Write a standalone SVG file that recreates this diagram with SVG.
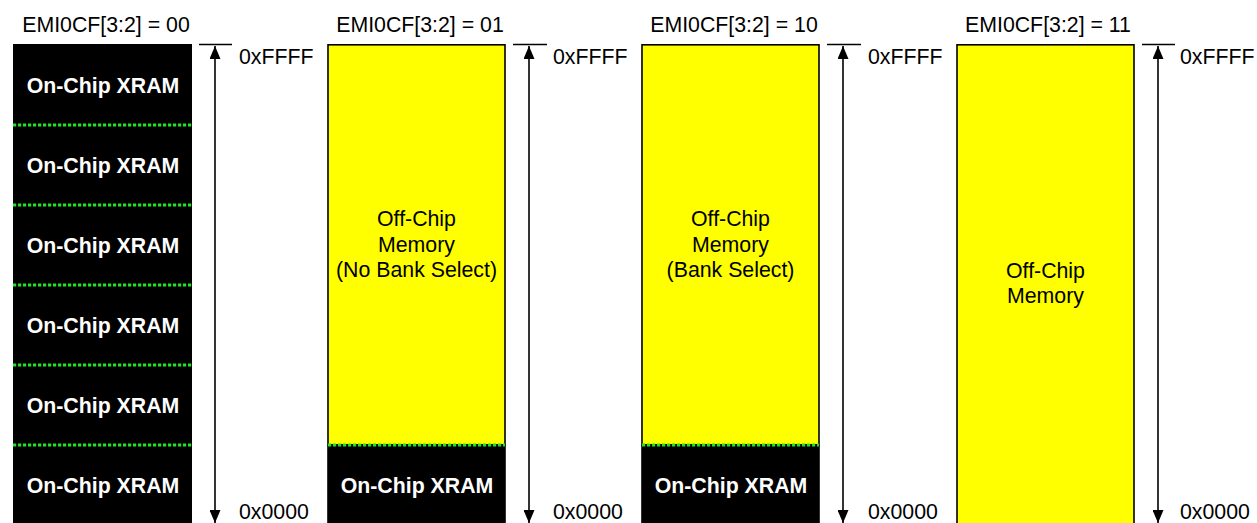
<svg xmlns="http://www.w3.org/2000/svg" width="1257" height="523" viewBox="0 0 1257 523">
<defs>
<marker id="ah" viewBox="0 0 13 11" refX="13" refY="5.5" markerWidth="13" markerHeight="11" markerUnits="userSpaceOnUse" orient="auto-start-reverse">
<path d="M0,0 L13,5.5 L0,11 z" fill="#000"/>
</marker>
</defs>
<style>
text{font-family:"Liberation Sans",Arial,sans-serif;font-size:21.3px;fill:#000}
.t{text-anchor:middle}
.w{fill:#fff;font-weight:bold;text-anchor:middle}
.blk{fill:#000}
.yel{fill:#ffff00;stroke:#000;stroke-width:1.6}
.dot{stroke:#1ee61e;stroke-width:3;stroke-dasharray:3.2 1.8;fill:none}
.tick{stroke:#000;stroke-width:1.6}
.arr{stroke:#000;stroke-width:1.6;fill:none}
</style>
<rect width="1257" height="523" fill="#fff"/>

<g id="titles">
<text class="t" x="106" y="32">EMI0CF[3:2] = 00</text>
<text class="t" x="420" y="32">EMI0CF[3:2] = 01</text>
<text class="t" x="734" y="32">EMI0CF[3:2] = 10</text>
<text class="t" x="1048" y="32">EMI0CF[3:2] = 11</text>
</g>

<g id="map00">
<rect class="blk" x="13" y="44" width="179" height="490"/>
<line class="dot" x1="13" y1="125" x2="192" y2="125"/>
<line class="dot" x1="13" y1="205" x2="192" y2="205"/>
<line class="dot" x1="13" y1="285" x2="192" y2="285"/>
<line class="dot" x1="13" y1="365" x2="192" y2="365"/>
<line class="dot" x1="13" y1="445" x2="192" y2="445"/>
<text class="w" x="103" y="93">On-Chip XRAM</text>
<text class="w" x="103" y="173">On-Chip XRAM</text>
<text class="w" x="103" y="253">On-Chip XRAM</text>
<text class="w" x="103" y="333">On-Chip XRAM</text>
<text class="w" x="103" y="413">On-Chip XRAM</text>
<text class="w" x="103" y="493">On-Chip XRAM</text>
</g>

<g id="map01">
<rect class="yel" x="328" y="44.8" width="177" height="400"/>
<rect class="blk" x="327.2" y="445" width="178.6" height="90"/>
<line class="dot" x1="328" y1="445" x2="505" y2="445"/>
<text class="t" x="416.5" y="226">Off-Chip</text>
<text class="t" x="416.5" y="252">Memory</text>
<text class="t" x="416.5" y="277">(No Bank Select)</text>
<text class="w" x="417" y="493">On-Chip XRAM</text>
</g>

<g id="map10">
<rect class="yel" x="642" y="44.8" width="177" height="400"/>
<rect class="blk" x="641.2" y="445" width="178.6" height="90"/>
<line class="dot" x1="642" y1="445" x2="819" y2="445"/>
<text class="t" x="730.5" y="226">Off-Chip</text>
<text class="t" x="730.5" y="252">Memory</text>
<text class="t" x="730.5" y="277">(Bank Select)</text>
<text class="w" x="731" y="493">On-Chip XRAM</text>
</g>

<g id="map11">
<rect class="yel" x="957" y="44.8" width="177" height="500"/>
<text class="t" x="1045.5" y="278">Off-Chip</text>
<text class="t" x="1045.5" y="303">Memory</text>
</g>

<g id="addr-labels">
<text x="239" y="64">0xFFFF</text>
<text x="239" y="518.5">0x0000</text>
<text x="553" y="64">0xFFFF</text>
<text x="553" y="518.5">0x0000</text>
<text x="868" y="64">0xFFFF</text>
<text x="868" y="518.5">0x0000</text>
<text x="1180" y="64">0xFFFF</text>
<text x="1180" y="518.5">0x0000</text>
</g>

<g id="connectors">
<line class="tick" x1="199" y1="44.5" x2="232" y2="44.5"/>
<line class="arr" x1="215" y1="46" x2="215" y2="523" marker-start="url(#ah)" marker-end="url(#ah)"/>
<line class="tick" x1="513" y1="44.5" x2="547" y2="44.5"/>
<line class="arr" x1="529" y1="46" x2="529" y2="523" marker-start="url(#ah)" marker-end="url(#ah)"/>
<line class="tick" x1="827" y1="44.5" x2="861" y2="44.5"/>
<line class="arr" x1="843" y1="46" x2="843" y2="523" marker-start="url(#ah)" marker-end="url(#ah)"/>
<line class="tick" x1="1142" y1="44.5" x2="1175" y2="44.5"/>
<line class="arr" x1="1158" y1="46" x2="1158" y2="523" marker-start="url(#ah)" marker-end="url(#ah)"/>
</g>
</svg>
